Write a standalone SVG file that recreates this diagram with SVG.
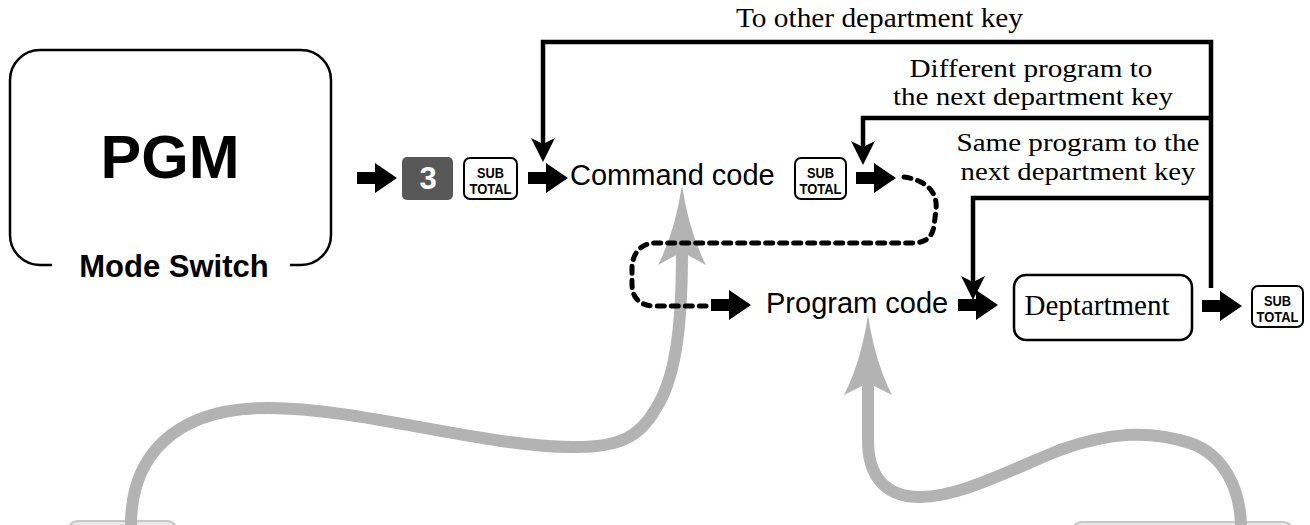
<svg xmlns="http://www.w3.org/2000/svg" xmlns:xlink="http://www.w3.org/1999/xlink" width="1310" height="525" viewBox="0 0 1310 525">
<style>
.sans{font-family:"Liberation Sans",Arial,sans-serif;fill:#000}
.serif{font-family:"Liberation Serif","Times New Roman",serif;fill:#000;font-size:27px}
.pair{font-size:25px}
.key{fill:#fff;stroke:#000;stroke-width:2}
.keytxt{font-family:"Liberation Sans",Arial,sans-serif;font-weight:bold;font-size:15px;fill:#000}
.loop{fill:none;stroke:#000;stroke-width:4.5;stroke-linejoin:miter}
.dash{fill:none;stroke:#000;stroke-width:5;stroke-dasharray:7 7;stroke-linecap:round}
.gray{fill:none;stroke:#b3b3b3;stroke-width:12}
.grayhead{fill:#b3b3b3}
</style>
<defs>
<path id="blk" d="M0,-6 H18 V-15 L40,0 L18,15 V6 H0 Z" fill="#000"/>
<marker id="ah" markerUnits="userSpaceOnUse" markerWidth="30" markerHeight="30" viewBox="-2 -14 30 28" refX="6" refY="0" orient="auto">
<path d="M0,-12 L24,0 L0,12 L6,0 Z" fill="#000"/>
</marker>
</defs>

<!-- bottom cut-off boxes -->
<rect x="68" y="521" width="109" height="30" rx="10" fill="#e8e8e8" stroke="#c8c8c8" stroke-width="2"/>
<rect x="1072" y="522" width="221" height="30" rx="10" fill="#e8e8e8" stroke="#c8c8c8" stroke-width="2"/>

<g id="connectors">
<!-- gray arrows -->
<path class="gray" d="M131,525 C131,460 170,408 268,408 C360,408 480,446 571,447 C620,448 640,436 655,410 C675,380 682,330 682,252"/>
<path class="grayhead" d="M682,185 Q689,232 706,265 L682,252 L658,265 Q675,232 682,185 Z"/>
<path class="gray" d="M1241,525 C1240,490 1225,455 1190,443 C1150,430 1110,432 1060,450 C1010,470 960,497 920,497 C880,497 868,470 868,440 L868,383"/>
<path class="grayhead" d="M868,315 Q875,362 892,395 L868,383 L844,395 Q861,362 868,315 Z"/>

<!-- block arrows -->
<use xlink:href="#blk" href="#blk" transform="translate(357,178)"/>
<use xlink:href="#blk" href="#blk" transform="translate(528,178)"/>
<use xlink:href="#blk" href="#blk" transform="translate(856,178)"/>
<use xlink:href="#blk" href="#blk" transform="translate(711,305)"/>
<use xlink:href="#blk" href="#blk" transform="translate(958,305)"/>
<use xlink:href="#blk" href="#blk" transform="translate(1202,306)"/>

<!-- dashed connector -->
<path class="dash" d="M904,177 C926,180 938,192 936,210 L934,226 C932,238 925,243 912,243 L655,243 C640,243 632,255 632,268 L632,284 C632,298 640,306 655,306 L706,306"/>

<!-- loop lines -->
<path class="loop" d="M1211,288 V42 H543 V144" marker-end="url(#ah)"/>
<path class="loop" d="M1211,118 H863 V147" marker-end="url(#ah)"/>
<path class="loop" d="M1211,198 H973 V282" marker-end="url(#ah)"/>
</g>

<g id="pgm">
<path d="M52,265 H40 A30,30 0 0 1 10,235 V80 A30,30 0 0 1 40,50 H301 A30,30 0 0 1 331,80 V235 A30,30 0 0 1 301,265 H290" fill="none" stroke="#000" stroke-width="2.5"/>
<text class="sans" x="170" y="178" font-size="61" font-weight="bold" text-anchor="middle">PGM</text>
<text class="sans" x="174" y="277" font-size="31" font-weight="bold" text-anchor="middle">Mode Switch</text>
</g>

<g id="key3">
<rect x="402" y="157" width="51" height="43" rx="5" fill="#585858"/>
<text class="sans" x="428" y="189" font-size="31" font-weight="bold" style="fill:#fff" text-anchor="middle">3</text>
</g>

<g id="subtotal1">
<rect class="key" x="464" y="158" width="53" height="41" rx="6"/>
<text class="keytxt" x="490.5" y="178" text-anchor="middle" textLength="27" lengthAdjust="spacingAndGlyphs">SUB</text>
<text class="keytxt" x="490.5" y="194" text-anchor="middle" textLength="42" lengthAdjust="spacingAndGlyphs">TOTAL</text>
</g>

<g id="command">
<text class="sans" x="570" y="185" font-size="29">Command code</text>
</g>

<g id="subtotal2">
<rect class="key" x="795" y="158" width="51" height="41" rx="6"/>
<text class="keytxt" x="820.5" y="178" text-anchor="middle" textLength="27" lengthAdjust="spacingAndGlyphs">SUB</text>
<text class="keytxt" x="820.5" y="194" text-anchor="middle" textLength="42" lengthAdjust="spacingAndGlyphs">TOTAL</text>
</g>

<g id="program">
<text class="sans" x="766" y="313" font-size="29">Program code</text>
</g>

<g id="department">
<rect x="1014" y="275" width="178" height="65" rx="12" fill="#fff" stroke="#000" stroke-width="2.5"/>
<text class="serif" x="1097" y="315" style="font-size:29px" text-anchor="middle">Deptartment</text>
</g>

<g id="subtotal3">
<rect class="key" x="1252" y="286" width="51" height="41" rx="6"/>
<text class="keytxt" x="1277.5" y="306" text-anchor="middle" textLength="27" lengthAdjust="spacingAndGlyphs">SUB</text>
<text class="keytxt" x="1277.5" y="322" text-anchor="middle" textLength="42" lengthAdjust="spacingAndGlyphs">TOTAL</text>
</g>

<g id="labels">
<text class="serif" x="736" y="27" textLength="287" lengthAdjust="spacingAndGlyphs">To other department key</text>
<text class="serif pair" x="1031" y="77" text-anchor="middle" textLength="243" lengthAdjust="spacingAndGlyphs">Different program to</text>
<text class="serif pair" x="1033" y="105" text-anchor="middle" textLength="280" lengthAdjust="spacingAndGlyphs">the next department key</text>
<text class="serif pair" x="1078" y="151" text-anchor="middle" textLength="243" lengthAdjust="spacingAndGlyphs">Same program to the</text>
<text class="serif pair" x="1078" y="180" text-anchor="middle" textLength="235" lengthAdjust="spacingAndGlyphs">next department key</text>
</g>
</svg>
